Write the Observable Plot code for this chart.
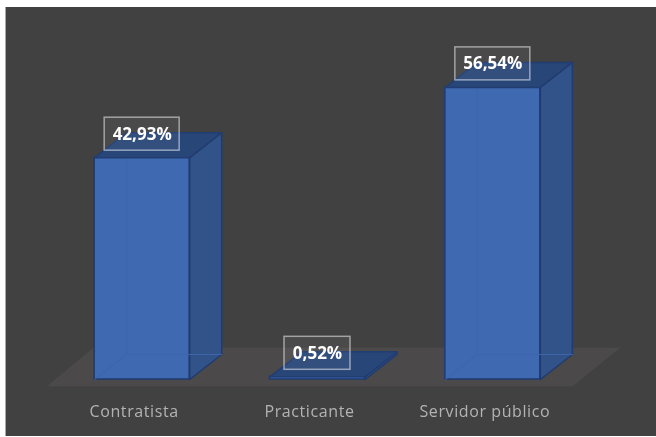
<!DOCTYPE html>
<html>
<head>
<meta charset="utf-8">
<script src="https://cdn.jsdelivr.net/npm/d3@7"></script>
<script src="https://cdn.jsdelivr.net/npm/@observablehq/plot@0.6"></script>
<style>
html,body{margin:0;padding:0;background:#fff;width:656px;height:437px;overflow:hidden}
#panel{position:absolute;left:5px;top:7px;width:651px;height:429px;background:#414141;border-left:1px solid #a8a8a8;box-sizing:border-box}
#chart{position:absolute;left:0;top:0}
#chart svg{filter:blur(0.4px)}
</style>
</head>
<body>
<div id="panel"></div>
<div id="chart"></div>
<script>
const categories = ["Contratista", "Practicante", "Servidor público"];
const values = [42.93, 0.52, 56.54];
const labels = ["42,93%", "0,52%", "56,54%"];

// Scale geometry (data units)
const pxX = 526 / 3, pxY = 372 / 72;
const halfBar = 47.5 / pxX, shift = 8 / pxX;
const depthX = 32 / pxX, depthY = 25 / pxY;

const poly = (id, pts) => [...pts, pts[0]].map(([x, y]) => ({id, x, y}));

const bars = values.map((v, i) => {
  const x0 = i + shift - halfBar, x1 = i + shift + halfBar;
  return {i, v, x0, x1, label: labels[i], cx: i + shift};
});

const floorPts = poly("floor", [
  [-0.5, -7 / pxY], [2.5, -7 / pxY],
  [2.5 + 48 / pxX, 32 / pxY], [-0.5 + 47 / pxX, 32 / pxY]
]);
const side = bars.flatMap(b => poly("s" + b.i, [
  [b.x1, 0], [b.x1 + depthX, depthY], [b.x1 + depthX, b.v + depthY], [b.x1, b.v]
]));
const top_ = bars.flatMap(b => poly("t" + b.i, [
  [b.x0, b.v], [b.x1, b.v], [b.x1 + depthX, b.v + depthY], [b.x0 + depthX, b.v + depthY]
]));
const inner = bars.filter(b => b.v > 5).flatMap(b => [
  ...[[b.x0 + depthX, b.v + depthY], [b.x0 + depthX, depthY], [b.x1 + depthX, depthY]].map(([x, y]) => ({id: "a" + b.i, x, y})),
  ...[[b.x0, 0], [b.x0 + depthX, depthY]].map(([x, y]) => ({id: "b" + b.i, x, y}))
]);
const boxH = 16.5 / pxY, labelUp = 23.5 / pxY;
const boxHalf = b => (21 + 9 * b.label.length) / 2 / pxX;

const plot = Plot.plot({
  width: 656,
  height: 437,
  margin: 0,
  style: {background: "transparent"},
  x: {domain: [-0.5, 2.5], range: [46, 572]},
  y: {domain: [0, 72], range: [379, 7], axis: null},
  marks: [
    Plot.line(floorPts, {x: "x", y: "y", z: "id", fill: "#4b4949", stroke: "none"}),
    Plot.line(side, {x: "x", y: "y", z: "id", fill: "#32538a", stroke: "#1f3b70", strokeWidth: 1.5}),
    Plot.rect(bars, {x1: "x0", x2: "x1", y1: 0, y2: "v", fill: "#3f69b0", stroke: "#1f3b70", strokeWidth: 1.5}),
    Plot.line(inner, {x: "x", y: "y", z: "id", stroke: "#3c65aa", strokeWidth: 1}),
    Plot.line(top_, {x: "x", y: "y", z: "id", fill: "#294678", stroke: "#213d72", strokeWidth: 1.5}),
    Plot.rect(bars, {
      x1: b => b.cx - boxHalf(b), x2: b => b.cx + boxHalf(b),
      y1: b => b.v + labelUp - boxH, y2: b => b.v + labelUp + boxH,
      fill: "#ffffff", fillOpacity: 0.05, stroke: "#ffffff", strokeOpacity: 0.5, strokeWidth: 1.5
    }),
    Plot.text(bars, {
      x: "cx", y: b => b.v + labelUp, text: "label",
      fill: "#ffffff", fontFamily: "Open Sans", fontWeight: 700, fontSize: 17
    }),
    Plot.axisX({
      ticks: [0, 1, 2], tickFormat: i => categories[i], tickSize: 0, tickPadding: 0,
      anchor: "bottom", label: null,
      y: 0, dy: 26, color: "#b3b3b3", fontFamily: "Open Sans", fontSize: 16
    })
  ]
});
plot.querySelectorAll('[aria-label="x-axis tick label"] text').forEach(t => t.style.letterSpacing = "0.6px");
document.getElementById("chart").append(plot);
</script>
</body>
</html>
